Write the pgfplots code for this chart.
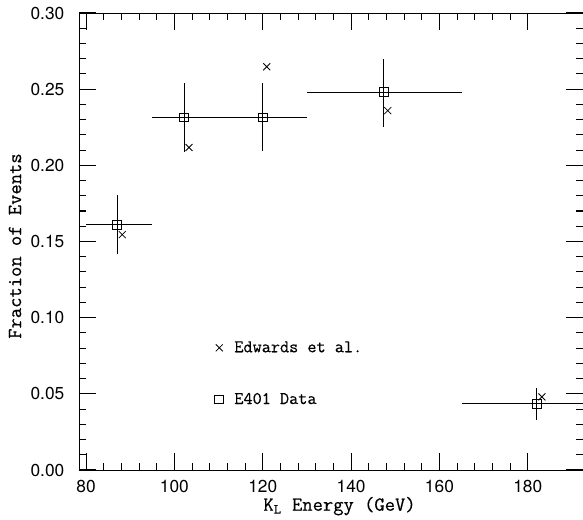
\documentclass[border=0pt]{standalone}
\usepackage{fontspec}
\setsansfont{TeX Gyre Heros}
\newfontfamily\monof{Latin Modern Mono}[FakeBold=0.4]
\newcommand\lblfont{\monof\fontsize{13.3}{15}\selectfont}
\usepackage{pgfplots}
\usepackage{pgfplotstable}
\pgfplotsset{compat=1.18}
\pgfplotstableread{
x      y       exp   exm   eyp     eym
87.0   0.1610  8.0   7.0   0.0195  0.0195
102.2  0.2315  7.8   7.2   0.0225  0.0230
120.0  0.2315  10.0  10.0  0.0225  0.0220
147.4  0.2480  17.6  17.4  0.0220  0.0230
182.0  0.0435  18.0  17.0  0.0105  0.0105
}\eoidata
\pgfplotstableread{
x      y
88.2   0.1545
103.3  0.2117
120.9  0.2647
148.3  0.2359
183.2  0.0480
}\edwards
\begin{document}
\begin{tikzpicture}
\begin{axis}[
  scale only axis,
  width=378pt, height=342.75pt,
  xmin=78.4, xmax=192.5, ymin=0, ymax=0.30,
  xtick={80,100,120,140,160,180},
  ytick={0,0.05,0.10,0.15,0.20,0.25,0.30},
  minor x tick num=4, minor y tick num=4,
  tick align=inside,
  major tick length=13pt, minor tick length=5pt,
  axis line style={line width=0.7pt},
  tick style={line width=0.8pt, black},
  /pgf/number format/assume math mode=true,
  ticklabel style={font=\sffamily\fontsize{13}{15}\selectfont},
  yticklabel style={/pgf/number format/fixed, /pgf/number format/fixed zerofill, /pgf/number format/precision=2},
  xticklabel style={/pgf/number format/fixed, inner sep=1pt},
  yticklabel shift=7.5pt,
  xticklabel shift=6.2pt,
  xlabel={K\textsubscript{L} Energy (GeV)},
  ylabel={Fraction of Events},
  every axis label/.append style={font=\monof\fontsize{15}{18}\selectfont},
  xlabel style={at={(axis description cs:0.517,-0.079)}, anchor=center, inner sep=0pt},
  ylabel style={at={(axis description cs:-0.127,0.49)}, anchor=center},
  legend image code/.code={\draw[#1] plot coordinates {(0pt,0pt)}; \path (9pt,0pt);},
  legend style={draw=none, fill=none, font=\lblfont,
    at={(axis cs:108.2,0.0632)}, anchor=west, row sep=25pt, legend cell align=left},
]
\addplot[only marks, mark=x, mark size=3.7pt, line width=0.6pt] table[x=x,y=y] {\edwards};
\addlegendentry{Edwards et al.}
\addplot[only marks, mark=square, mark size=3.3pt, line width=0.6pt,
  error bars/.cd, x dir=both, x explicit, y dir=both, y explicit, error mark=none,
  error bar style={line width=0.6pt}]
  table[x=x, y=y, x error plus=exp, x error minus=exm, y error plus=eyp, y error minus=eym] {\eoidata};
\addlegendentry{E401 Data}
\coordinate (bl) at (rel axis cs:0,0);
\coordinate (tr) at (rel axis cs:1,1);
\end{axis}
\pgfresetboundingbox
\path ([xshift=-59.25pt,yshift=-37.5pt]bl) rectangle ([yshift=9.75pt]tr);
\end{tikzpicture}
\end{document}
